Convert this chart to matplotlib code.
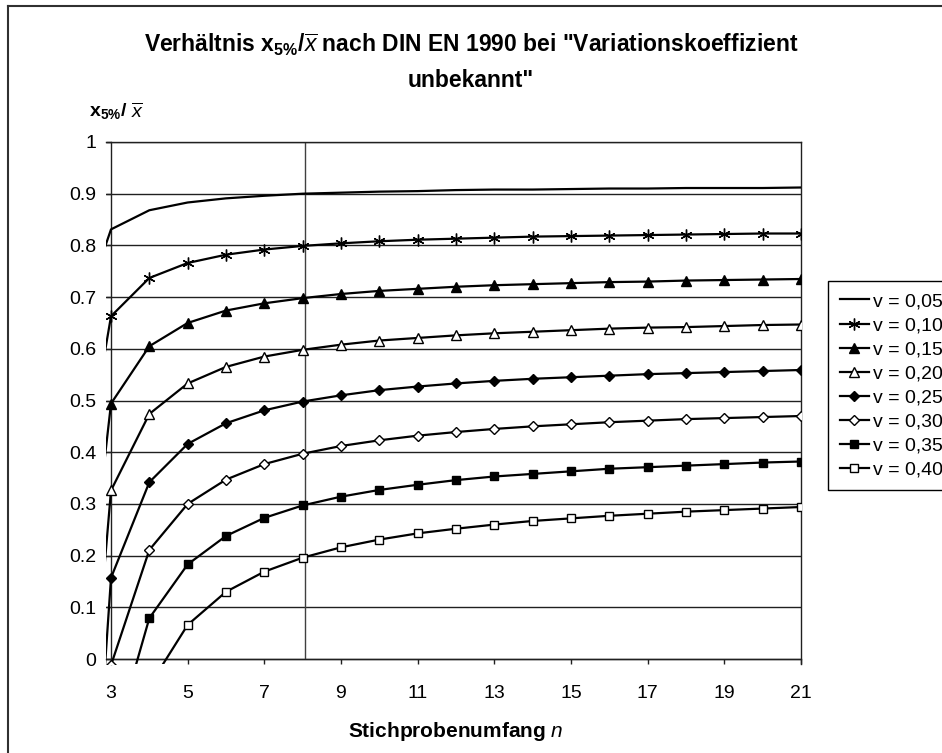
import matplotlib
matplotlib.use("Agg")
import matplotlib.pyplot as plt
from matplotlib.lines import Line2D

# Fonts: Arial-like sans serif, also for the math parts (subscript, x bar)
plt.rcParams['font.family'] = ['Liberation Sans', 'DejaVu Sans']
plt.rcParams['mathtext.fontset'] = 'custom'
plt.rcParams['mathtext.rm'] = 'Liberation Sans'
plt.rcParams['mathtext.it'] = 'Liberation Sans:italic'
plt.rcParams['mathtext.bf'] = 'Liberation Sans:bold'

# Data: ratio x_5% / x_mean against sample size n (n = 2 lies left of the axis)
#========================================#
n = [2, 3, 4, 5, 6, 7, 8, 9, 10, 11, 12, 13, 14, 15, 16, 17, 18, 19, 20, 21]

r_005 = [0.613, 0.831, 0.868, 0.883, 0.891, 0.896, 0.900, 0.902, 0.904, 0.905,
         0.907, 0.908, 0.908, 0.909, 0.910, 0.910, 0.911, 0.911, 0.911, 0.912]
r_010 = [0.227, 0.663, 0.737, 0.766, 0.782, 0.792, 0.799, 0.804, 0.808, 0.811,
         0.813, 0.815, 0.817, 0.818, 0.819, 0.820, 0.821, 0.822, 0.823, 0.823]
r_015 = [-0.160, 0.494, 0.605, 0.650, 0.674, 0.688, 0.698, 0.706, 0.712, 0.716,
         0.720, 0.723, 0.725, 0.727, 0.729, 0.730, 0.732, 0.733, 0.734, 0.735]
r_020 = [-0.547, 0.326, 0.474, 0.533, 0.565, 0.585, 0.598, 0.608, 0.616, 0.621,
         0.626, 0.630, 0.633, 0.636, 0.639, 0.641, 0.642, 0.644, 0.646, 0.647]
r_025 = [-0.933, 0.157, 0.342, 0.416, 0.456, 0.481, 0.498, 0.510, 0.520, 0.527,
         0.533, 0.538, 0.542, 0.545, 0.548, 0.551, 0.553, 0.555, 0.557, 0.559]
r_030 = [-1.320, -0.012, 0.211, 0.300, 0.347, 0.377, 0.397, 0.412, 0.423, 0.432,
         0.439, 0.445, 0.450, 0.454, 0.458, 0.461, 0.464, 0.466, 0.468, 0.470]
r_035 = [-1.707, -0.180, 0.079, 0.183, 0.238, 0.273, 0.297, 0.314, 0.327, 0.337,
         0.346, 0.353, 0.358, 0.363, 0.368, 0.371, 0.374, 0.377, 0.380, 0.382]
r_040 = [-2.093, -0.349, -0.052, 0.066, 0.130, 0.169, 0.196, 0.216, 0.231, 0.243,
         0.252, 0.260, 0.267, 0.272, 0.277, 0.281, 0.285, 0.288, 0.291, 0.294]

series = [r_005, r_010, r_015, r_020, r_025, r_030, r_035, r_040]
labels = ['v = 0,05', 'v = 0,10', 'v = 0,15', 'v = 0,20',
          'v = 0,25', 'v = 0,30', 'v = 0,35', 'v = 0,40']

x_ticks = [3, 5, 7, 9, 11, 13, 15, 17, 19, 21]
y_ticks = [0, 0.1, 0.2, 0.3, 0.4, 0.5, 0.6, 0.7, 0.8, 0.9, 1.0]
y_ticklabels = ['0', '0.1', '0.2', '0.3', '0.4', '0.5', '0.6', '0.7', '0.8', '0.9', '1']

# Marker style per series: (marker, size, face colour)
styles = [
    (None, 0, 'k'),
    ((6, 2, 0), 8.5, 'k'),
    ('^', 7.0, 'k'),
    ('^', 7.0, 'white'),
    ('D', 4.8, 'k'),
    ('D', 4.8, 'white'),
    ('s', 6.2, 'k'),
    ('s', 6.2, 'white'),
]

# Figure and axes (pixel layout of a 942 x 753 image)
#========================================#
W, H = 942, 753
fig = plt.figure(figsize=(W / 100, H / 100), dpi=100)
fig.patch.set_facecolor('white')

x0_px, x1_px = 111, 801      # n = 3 and n = 21
y0_px, y1_px = 659, 142      # ratio 0 and 1
ext = 5                      # lines may run into the tick area
px_x = (x1_px - x0_px) / 18.0
px_y = (y0_px - y1_px) / 1.0

ax = fig.add_axes([(x0_px - ext) / W, (H - y0_px - ext) / H,
                   (x1_px - x0_px + ext) / W, (y0_px - y1_px + ext) / H])
ax.set_xlim(3 - ext / px_x, 21)
ax.set_ylim(0 - ext / px_y, 1)

ax.spines['left'].set_position(('data', 3))
ax.spines['bottom'].set_position(('data', 0))
for s in ax.spines.values():
    s.set_color('#202020')
    s.set_linewidth(1.0)

ax.set_yticks(y_ticks)
ax.set_yticklabels(y_ticklabels)
ax.set_xticks(x_ticks)
ax.tick_params(axis='both', direction='out', length=3.6, width=1.0,
               color='#202020', labelsize=14)
ax.tick_params(axis='y', pad=7)
ax.tick_params(axis='x', pad=15)

ax.yaxis.grid(True, color='#202020', linewidth=1.0)
ax.set_axisbelow(True)
ax.vlines(8.06, 0, 1, color='#404040', linewidth=1.0, zorder=1)

# Curves
#========================================#
handles = []
for vals, lab, (mk, ms, fc) in zip(series, labels, styles):
    line, = ax.plot(n, vals, color='k', linewidth=1.6, marker=mk,
                    markersize=ms, markerfacecolor=fc, markeredgecolor='k',
                    markeredgewidth=1.0, label=lab, zorder=3)
    handles.append(line)

# Texts
#========================================#
fig.text(0.5, (H - 52) / H,
         r'Verhältnis x$_{\mathbf{5\%}}$/$\overline{x}$ nach DIN EN 1990 bei "Variationskoeffizient',
         ha='center', va='baseline', fontsize=16.5, fontweight='bold')
fig.text(0.5, (H - 87) / H, 'unbekannt"',
         ha='center', va='baseline', fontsize=16.5, fontweight='bold')

fig.text(89 / W, (H - 117) / H, r'x$_{\mathbf{5\%}}$/ $\overline{x}$',
         ha='left', va='baseline', fontsize=14, fontweight='bold')

fig.text((x0_px + x1_px) / 2 / W, (H - 737) / H, r'Stichprobenumfang $n$',
         ha='center', va='baseline', fontsize=15, fontweight='bold')

# Legend, partly running off the right edge
leg = fig.legend(handles, labels, loc='upper left',
                 bbox_to_anchor=(828 / W, (H - 281) / H),
                 fontsize=14, frameon=True, fancybox=False, framealpha=1,
                 edgecolor='k', labelspacing=0.33, borderpad=0.6,
                 handlelength=1.5, handletextpad=0.2, borderaxespad=0)
leg.get_frame().set_linewidth(1.0)

# Chart area border (left and top sides are visible)
fig.add_artist(Line2D([8 / W, 8 / W], [-0.01, (H - 6) / H],
                      transform=fig.transFigure, color='#303030', linewidth=1.5))
fig.add_artist(Line2D([8 / W, 1.01], [(H - 6) / H, (H - 6) / H],
                      transform=fig.transFigure, color='#303030', linewidth=1.5))

fig.savefig('out.png', dpi=100)
